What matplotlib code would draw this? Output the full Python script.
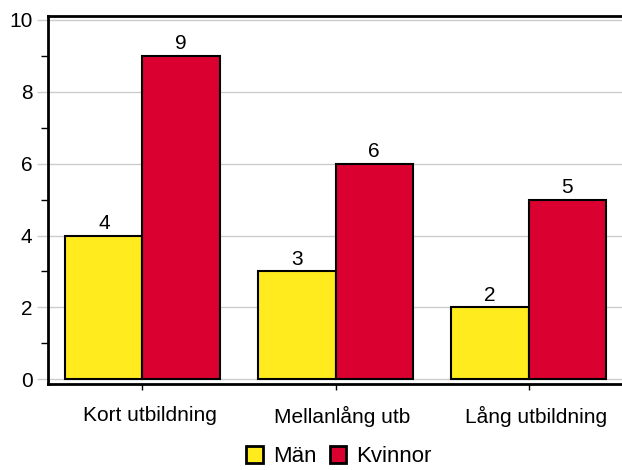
import numpy as np
import matplotlib.pyplot as plt
import matplotlib.transforms as mtransforms
from matplotlib.patches import Patch
from matplotlib.ticker import MultipleLocator

plt.rcParams['font.family'] = ['Liberation Sans', 'DejaVu Sans']

categories = ['Kort utbildning', 'Mellanlång utb', 'Lång utbildning']
man = [4, 3, 2]
kvinnor = [9, 6, 5]
series_names = ['Män', 'Kvinnor']

yellow = '#FFEB1E'
red = '#DA0030'

fig = plt.figure(figsize=(6.22, 4.70), dpi=100)
ax = fig.add_axes([0.077, 0.183, 0.928, 0.784])

x = np.arange(len(categories))
w = 0.4
b1 = ax.bar(x - w / 2, man, w, color=yellow, edgecolor='black', linewidth=1.5, zorder=3)
b2 = ax.bar(x + w / 2, kvinnor, w, color=red, edgecolor='black', linewidth=1.5, zorder=3)

for bars, vals in ((b1, man), (b2, kvinnor)):
    for r, v in zip(bars, vals):
        ax.text(r.get_x() + r.get_width() / 2, v + 0.08, str(v),
                ha='center', va='bottom', fontsize=15)

ax.set_xlim(-0.49, 2.5)
ax.set_ylim(-0.13, 10.12)
ax.yaxis.set_major_locator(MultipleLocator(2))
ax.yaxis.set_minor_locator(MultipleLocator(1))
ax.grid(axis='y', color='#cccccc', linewidth=1, zorder=0)

ax.set_xticks(x)
ax.set_xticklabels(categories, fontsize=15)
ax.tick_params(axis='x', length=4, width=1, color='black', pad=12)
ax.tick_params(axis='y', which='major', length=8, width=1, color='#cccccc',
               labelsize=15, pad=3)
ax.tick_params(axis='y', which='minor', length=5, width=1, color='black')

# category labels sit a little right of the tick in the original
shift = mtransforms.ScaledTranslation(0.07, 0, fig.dpi_scale_trans)
for lbl in ax.get_xticklabels():
    lbl.set_transform(lbl.get_transform() + shift)

for s in ('left', 'top', 'bottom'):
    ax.spines[s].set_linewidth(2)
    ax.spines[s].set_color('black')
ax.spines['right'].set_visible(False)

handles = [Patch(facecolor=yellow, edgecolor='black', linewidth=2),
           Patch(facecolor=red, edgecolor='black', linewidth=2)]
fig.legend(handles, series_names, loc='center', bbox_to_anchor=(0.545, 0.028),
           ncol=2, frameon=False, fontsize=16, handlelength=0.75, handleheight=0.75,
           handletextpad=0.45, columnspacing=0.6)

fig.savefig('out.png', dpi=100)
